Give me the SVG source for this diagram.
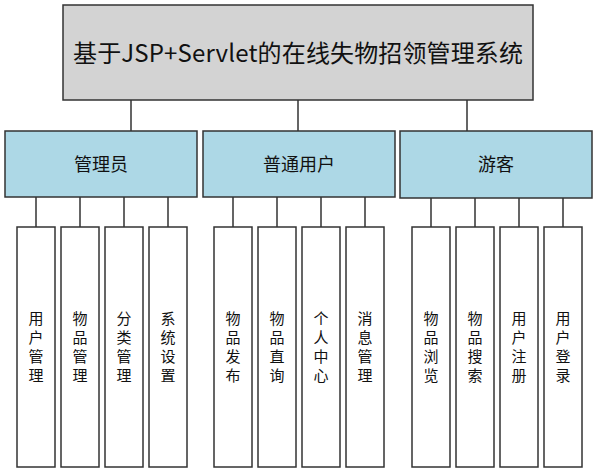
<svg xmlns="http://www.w3.org/2000/svg" width="597" height="473" viewBox="0 0 597 473">
<style>
.t{font-family:"Microsoft YaHei","Noto Sans CJK SC","Noto Sans",sans-serif;fill:#111;text-anchor:middle;dominant-baseline:central}
.root{fill:#d3d3d3;stroke:#333;stroke-width:1.5}
.mid{fill:#add8e6;stroke:#333;stroke-width:1.5}
.leaf{fill:#fff;stroke:#333;stroke-width:1.5}
.c{stroke:#333;stroke-width:1.5;fill:none}
</style>
<rect width="597" height="473" fill="#fff"/>
<g id="connectors" class="c">
<path d="M131 100V131M298 100V131M467 100V131"/>
<path d="M36 197V227M80 197V227M124 197V227M168 197V227"/>
<path d="M233 197V227M277 197V227M321 197V227M365 197V227"/>
<path d="M431 198V227M475 198V227M519 198V227M563 198V227"/>
</g>
<g id="root"><rect class="root" x="63" y="5" width="470" height="95"/><text class="t" x="298" y="51" font-size="24" textLength="450" lengthAdjust="spacing">基于JSP+Servlet的在线失物招领管理系统</text></g>
<g id="admin"><rect class="mid" x="5" y="131" width="192" height="66"/><text class="t" x="101" y="163" font-size="18">管理员</text></g>
<g id="user"><rect class="mid" x="203" y="131" width="192" height="66"/><text class="t" x="299" y="163" font-size="18">普通用户</text></g>
<g id="guest"><rect class="mid" x="400" y="131" width="192" height="67"/><text class="t" x="496" y="163" font-size="18">游客</text></g>
<g font-size="15">
<g id="l1"><rect class="leaf" x="17" y="227" width="38" height="240"/><text class="t" x="36"><tspan x="36" y="317">用</tspan><tspan x="36" y="336">户</tspan><tspan x="36" y="355">管</tspan><tspan x="36" y="374">理</tspan></text></g>
<g id="l2"><rect class="leaf" x="61" y="227" width="38" height="240"/><text class="t"><tspan x="80" y="317">物</tspan><tspan x="80" y="336">品</tspan><tspan x="80" y="355">管</tspan><tspan x="80" y="374">理</tspan></text></g>
<g id="l3"><rect class="leaf" x="105" y="227" width="38" height="240"/><text class="t"><tspan x="124" y="317">分</tspan><tspan x="124" y="336">类</tspan><tspan x="124" y="355">管</tspan><tspan x="124" y="374">理</tspan></text></g>
<g id="l4"><rect class="leaf" x="149" y="227" width="38" height="240"/><text class="t"><tspan x="168" y="317">系</tspan><tspan x="168" y="336">统</tspan><tspan x="168" y="355">设</tspan><tspan x="168" y="374">置</tspan></text></g>
<g id="l5"><rect class="leaf" x="214" y="227" width="38" height="240"/><text class="t"><tspan x="233" y="317">物</tspan><tspan x="233" y="336">品</tspan><tspan x="233" y="355">发</tspan><tspan x="233" y="374">布</tspan></text></g>
<g id="l6"><rect class="leaf" x="258" y="227" width="38" height="240"/><text class="t"><tspan x="277" y="317">物</tspan><tspan x="277" y="336">品</tspan><tspan x="277" y="355">直</tspan><tspan x="277" y="374">询</tspan></text></g>
<g id="l7"><rect class="leaf" x="302" y="227" width="38" height="240"/><text class="t"><tspan x="321" y="317">个</tspan><tspan x="321" y="336">人</tspan><tspan x="321" y="355">中</tspan><tspan x="321" y="374">心</tspan></text></g>
<g id="l8"><rect class="leaf" x="346" y="227" width="38" height="240"/><text class="t"><tspan x="365" y="317">消</tspan><tspan x="365" y="336">息</tspan><tspan x="365" y="355">管</tspan><tspan x="365" y="374">理</tspan></text></g>
<g id="l9"><rect class="leaf" x="412" y="227" width="38" height="240"/><text class="t"><tspan x="431" y="317">物</tspan><tspan x="431" y="336">品</tspan><tspan x="431" y="355">浏</tspan><tspan x="431" y="374">览</tspan></text></g>
<g id="l10"><rect class="leaf" x="456" y="227" width="38" height="240"/><text class="t"><tspan x="475" y="317">物</tspan><tspan x="475" y="336">品</tspan><tspan x="475" y="355">搜</tspan><tspan x="475" y="374">索</tspan></text></g>
<g id="l11"><rect class="leaf" x="500" y="227" width="38" height="240"/><text class="t"><tspan x="519" y="317">用</tspan><tspan x="519" y="336">户</tspan><tspan x="519" y="355">注</tspan><tspan x="519" y="374">册</tspan></text></g>
<g id="l12"><rect class="leaf" x="544" y="227" width="38" height="240"/><text class="t"><tspan x="563" y="317">用</tspan><tspan x="563" y="336">户</tspan><tspan x="563" y="355">登</tspan><tspan x="563" y="374">录</tspan></text></g>
</g>
</svg>
